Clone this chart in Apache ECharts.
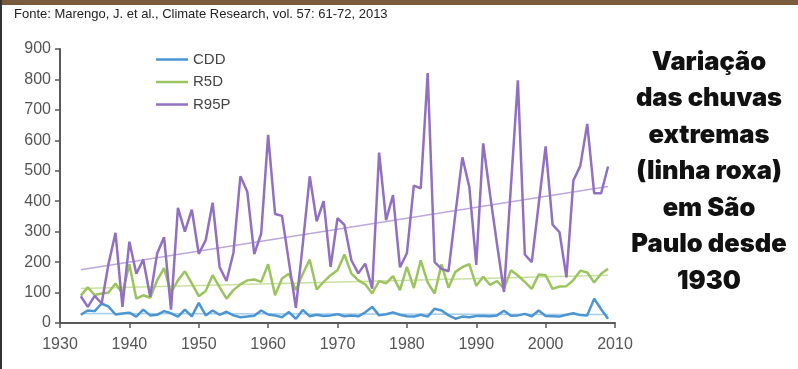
<!DOCTYPE html>
<html><head><meta charset="utf-8">
<script src="https://cdn.jsdelivr.net/npm/echarts@6/dist/echarts.min.js"></script>
<style>html,body{margin:0;padding:0;background:#fff}#c{width:798px;height:369px}</style>
</head><body><div id="c"></div>
<script>
const startYear = 1933;
const cdd = [27,41,39,64,54,28,31,34,21,44,25,27,39,32,21,44,22,66,25,41,27,37,25,19,21,24,41,28,25,19,36,14,43,22,27,23,25,29,22,25,22,35,53,25,29,35,27,22,21,27,21,47,41,25,14,21,19,23,23,22,25,40,24,25,30,22,41,23,22,21,27,32,26,25,80,45,14];
const r5d = [90,117,92,97,100,130,97,193,80,91,83,140,180,100,140,170,130,88,105,157,118,80,108,127,140,143,135,193,91,146,162,108,162,208,110,135,157,173,225,162,140,127,97,138,130,154,108,184,115,206,133,97,193,116,168,184,193,122,152,125,138,113,173,156,135,112,159,157,112,120,121,141,172,166,133,162,178];
const r95p = [88,53,89,64,195,296,53,267,162,208,86,228,282,44,378,300,372,227,272,395,184,138,231,482,431,226,294,618,358,352,200,50,260,482,334,400,184,344,322,206,163,195,113,560,338,420,183,229,451,442,821,200,178,170,360,544,447,191,590,420,258,102,450,797,225,200,390,580,323,298,150,468,516,654,426,426,514];
const trendYears = [1933, 2009];
const cddTrend = [31, 28];
const r5dTrend = [113, 157];
const r95pTrend = [175, 448];
const xTicks = [1930, 2010, 10];
const yTicks = [0, 900, 100];

const pair = arr => arr.map((v, i) => [startYear + i, v]);
const tpair = arr => arr.map((v, i) => [trendYears[i], v]);

const C = { cdd: '#4b95d3', r5d: '#9cc45e', r95p: '#9170c2' };
const T = { cdd: '#a6cdec', r5d: '#c9e0a4', r95p: '#bca8da' };

const chart = echarts.init(document.getElementById('c'), null, { renderer: 'canvas' });
const font = '"Liberation Sans", Arial, sans-serif';
const lineIcon = 'path://M0,0 L32,0 L32,2.5 L0,2.5 Z';
chart.setOption({
  animation: false,
  backgroundColor: '#fff',
  grid: { left: 60, right: 183, top: 49, bottom: 46 },
  title: {
    text: 'Variação\ndas chuvas\nextremas\n(linha roxa)\nem São\nPaulo desde\n1930',
    left: 704, top: 39, textAlign: 'center',
    textStyle: { fontFamily: 'Inter', fontWeight: 900, fontSize: 25.5, lineHeight: 36.5, color: '#111' }
  },
  legend: {
    orient: 'vertical', left: 151, top: 47, itemWidth: 32, itemHeight: 14, itemGap: 7.5,
    symbolKeepAspect: true,
    data: [{ name: 'CDD', icon: lineIcon }, { name: 'R5D', icon: lineIcon }, { name: 'R95P', icon: lineIcon }],
    textStyle: { fontFamily: font, fontSize: 15, color: '#444' }
  },
  graphic: [
    { type: 'rect', shape: { x: 0, y: 0, width: 798, height: 5 }, style: { fill: '#7a5a3d' } },
    { type: 'rect', shape: { x: 0, y: 0, width: 2, height: 369 }, style: { fill: '#333' } },
    { type: 'text', left: 14, top: 8, style: { text: 'Fonte: Marengo, J. et al., Climate Research, vol. 57: 61-72, 2013', fontFamily: font, fontSize: 13, fill: '#222' } }
  ],
  xAxis: {
    type: 'value', min: xTicks[0], max: xTicks[1], interval: xTicks[2],
    axisLine: { lineStyle: { color: '#5a5a5a', width: 2 } },
    axisTick: { show: true, length: 5, lineStyle: { color: '#5a5a5a', width: 1.5 } },
    axisLabel: { fontFamily: font, fontSize: 16, color: '#555', margin: 14, formatter: v => String(v) },
    splitLine: { show: false }
  },
  yAxis: {
    type: 'value', min: yTicks[0], max: yTicks[1], interval: yTicks[2],
    axisLine: { show: true, lineStyle: { color: '#5a5a5a', width: 2 } },
    axisTick: { show: true, length: 5, lineStyle: { color: '#5a5a5a', width: 1.5 } },
    axisLabel: { fontFamily: font, fontSize: 16, color: '#555', margin: 9 },
    splitLine: { show: false }
  },
  series: [
    { name: 'CDD trend', type: 'line', data: tpair(cddTrend), symbol: 'none', silent: true, z: 1, lineStyle: { color: T.cdd, width: 1.5 } },
    { name: 'R5D trend', type: 'line', data: tpair(r5dTrend), symbol: 'none', silent: true, z: 1, lineStyle: { color: T.r5d, width: 1.5 } },
    { name: 'CDD', type: 'line', data: pair(cdd), symbol: 'none', z: 2, color: C.cdd, lineStyle: { color: C.cdd, width: 2.5 } },
    { name: 'R5D', type: 'line', data: pair(r5d), symbol: 'none', z: 2, color: C.r5d, lineStyle: { color: C.r5d, width: 2.5 } },
    { name: 'R95P trend', type: 'line', data: tpair(r95pTrend), symbol: 'none', silent: true, z: 1, lineStyle: { color: T.r95p, width: 1.5 } },
    { name: 'R95P', type: 'line', data: pair(r95p), symbol: 'none', z: 3, color: C.r95p, lineStyle: { color: C.r95p, width: 2.5 } }
  ]
});
</script></body></html>
